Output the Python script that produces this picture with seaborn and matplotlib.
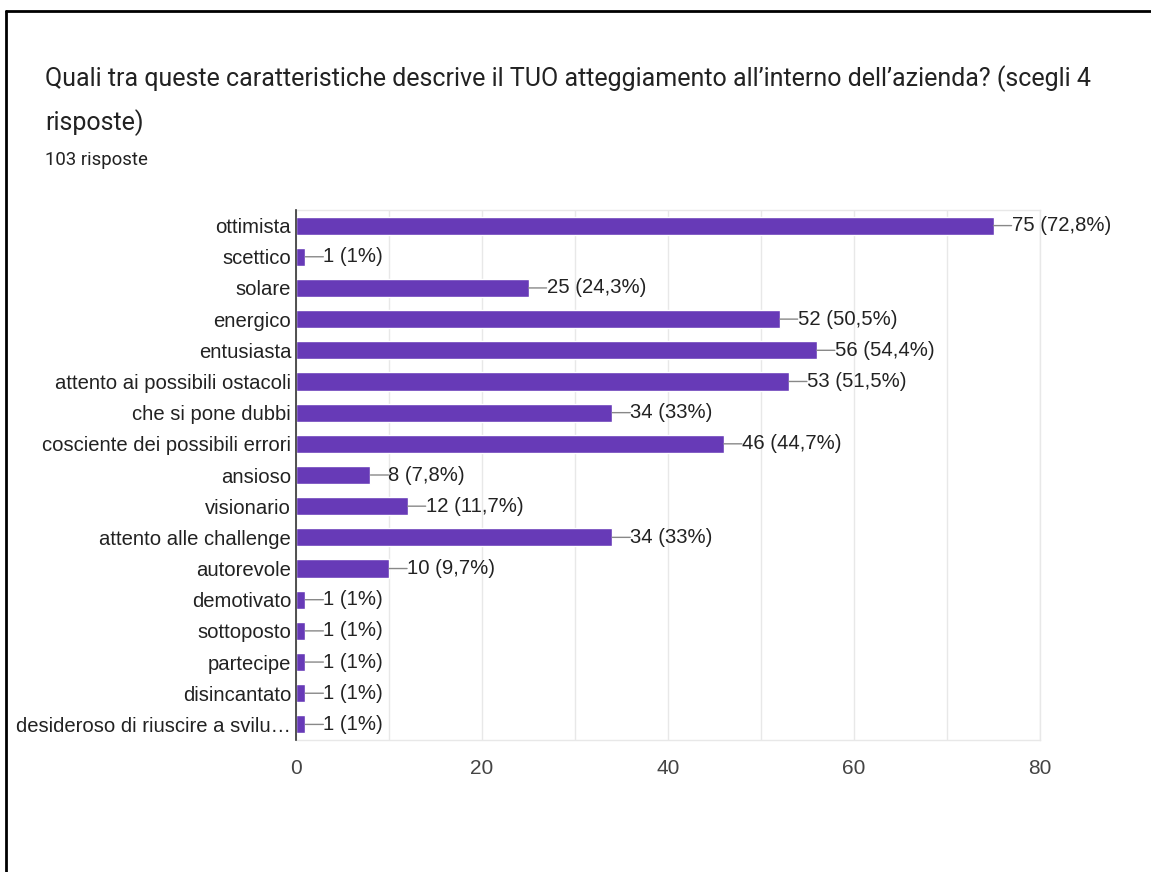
import matplotlib
matplotlib.use("Agg")
import matplotlib.pyplot as plt
import seaborn as sns
import pandas as pd
from matplotlib.lines import Line2D

categories = [
    "ottimista", "scettico", "solare", "energico", "entusiasta",
    "attento ai possibili ostacoli", "che si pone dubbi",
    "cosciente dei possibili errori", "ansioso", "visionario",
    "attento alle challenge", "autorevole", "demotivato", "sottoposto",
    "partecipe", "disincantato", "desideroso di riuscire a svilu…",
]
counts = [75, 1, 25, 52, 56, 53, 34, 46, 8, 12, 34, 10, 1, 1, 1, 1, 1]
percents = ["72,8%", "1%", "24,3%", "50,5%", "54,4%", "51,5%", "33%", "44,7%",
            "7,8%", "11,7%", "33%", "9,7%", "1%", "1%", "1%", "1%", "1%"]
xticks = [0, 20, 40, 60, 80]

title = "Quali tra queste caratteristiche descrive il TUO atteggiamento all\u2019interno dell\u2019azienda? (scegli 4\nrisposte)"
subtitle = "103 risposte"

sns.set_theme(style="white")
plt.rcParams["font.family"] = ["Liberation Sans", "DejaVu Sans"]

df = pd.DataFrame({"cat": categories, "n": counts})

fig = plt.figure(figsize=(11.51, 8.72), dpi=100)
ax = fig.add_axes([296 / 1151, 1 - 740 / 872, (1040 - 296) / 1151, (740 - 210) / 872])

sns.barplot(data=df, y="cat", x="n", orient="h", color="#673ab7",
            saturation=1, width=0.58, ax=ax, zorder=3)

ax.set_xlim(0, 80)
ax.set_ylim(len(categories) - 0.5, -0.5)
ax.set_xticks(xticks)
ax.set_xticks(range(0, 81, 10), minor=True)
ax.grid(axis="x", which="both", color="#e8e8e8", linewidth=1, zorder=0)
ax.set_xlabel("")
ax.set_ylabel("")
for s in ["top", "right", "bottom"]:
    ax.spines[s].set_color("#e8e8e8")
    ax.spines[s].set_linewidth(1)
ax.spines["left"].set_color("#333333")
ax.spines["left"].set_linewidth(1.2)
ax.spines["left"].set_zorder(5)
ax.tick_params(axis="y", length=0, pad=3.5, labelsize=14.6, labelcolor="#222222")
ax.tick_params(axis="x", which="both", length=0, pad=14, labelsize=15, labelcolor="#444444")

for i, (c, p) in enumerate(zip(counts, percents)):
    ax.annotate("", xy=(c, i), xytext=(13, 0), textcoords="offset points",
                arrowprops=dict(arrowstyle="-", color="#888888", lw=1,
                                shrinkA=0, shrinkB=0), zorder=4)
    ax.annotate(f"{c} ({p})", xy=(c, i), xytext=(13, 0), textcoords="offset points",
                va="center", ha="left", fontsize=14.6, color="#222222", zorder=4)

fig.text(45 / 1151, 1 - 65 / 872, title, fontsize=18, color="#222222",
         va="top", ha="left", linespacing=1.82, family=["Roboto", "DejaVu Sans"])
fig.text(45 / 1151, 1 - 160 / 872, subtitle, fontsize=13.4, color="#222222",
         va="center", ha="left", family=["Roboto", "DejaVu Sans"])

# outer frame (top and left edges)
fig.add_artist(Line2D([6 / 1151, 6 / 1151], [0, 1 - 11 / 872], transform=fig.transFigure,
                      color="black", lw=2))
fig.add_artist(Line2D([6 / 1151, 1], [1 - 11 / 872, 1 - 11 / 872], transform=fig.transFigure,
                      color="black", lw=2))

fig.savefig("out.png", dpi=100, facecolor="white")
